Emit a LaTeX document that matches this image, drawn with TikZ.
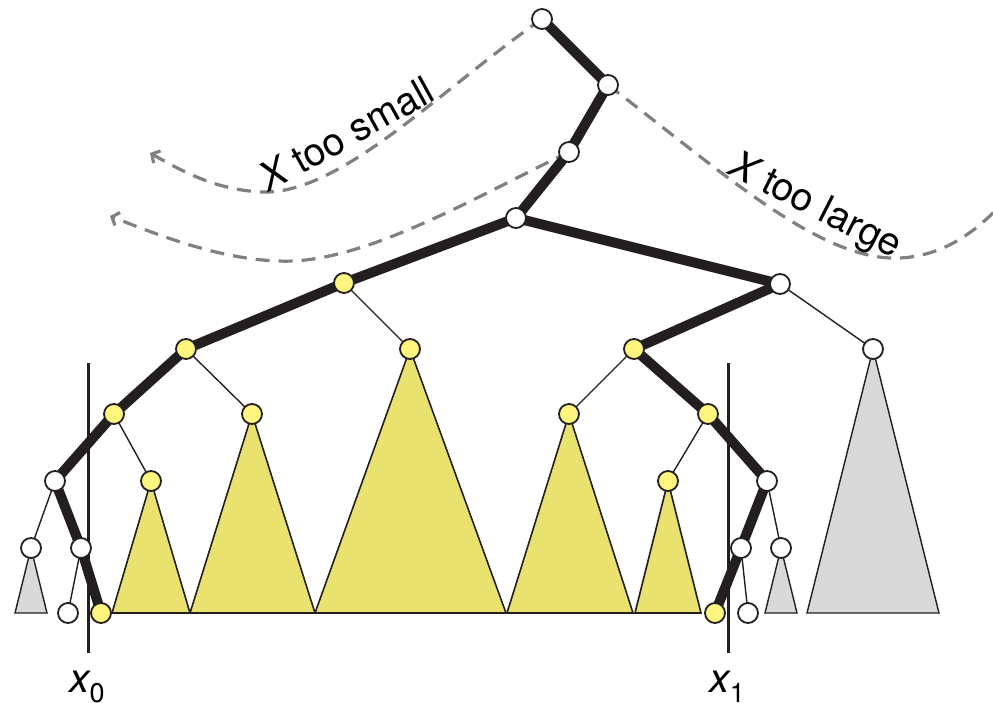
\documentclass[tikz,border=0pt]{standalone}
\usepackage{fontspec}
\setmainfont{TeX Gyre Heros}
\usetikzlibrary{arrows.meta}
\pgfdeclarelayer{bg}
\pgfsetlayers{bg,main}
\definecolor{dark}{RGB}{35,31,32}
\definecolor{nodeyel}{RGB}{255,244,125}
\definecolor{triyel}{RGB}{234,226,110}
\definecolor{trigray}{RGB}{217,217,217}
\definecolor{dashgray}{RGB}{128,128,128}
\begin{document}
\begin{tikzpicture}[x=1pt,y=-1pt,
  wnode/.style={circle,draw=dark,line width=1.8pt,fill=white,minimum size=20pt,inner sep=0pt},
  ynode/.style={wnode,fill=nodeyel},
  thickedge/.style={line width=10pt,draw=dark,line join=round},
  thinedge/.style={line width=1.4pt,draw=dark},
  ytri/.style={fill=triyel,draw=dark,line width=1.6pt},
  gtri/.style={fill=trigray,draw=dark,line width=1.4pt},
  divider/.style={line width=3pt,draw=dark},
  searchpath/.style={draw=dashgray,line width=3.2pt,dash pattern=on 14pt off 9pt,-{Straight Barb[length=6pt,width=14pt]}},
  lbl/.style={font=\fontsize{39}{39}\selectfont,text=black,inner sep=0pt},
  xlbl/.style={font=\fontsize{41}{41}\selectfont,text=black,inner sep=0pt}]
\useasboundingbox (0,0) rectangle (993,703);

% tree nodes
\node[wnode] (A) at (542,19) {};
\node[wnode] (B) at (608,85) {};
\node[wnode] (C) at (569,152) {};
\node[wnode] (D) at (516,218) {};
\node[ynode] (E) at (344,283) {};
\node[wnode] (F) at (780,284) {};
\node[ynode] (G) at (186,349) {};
\node[ynode] (H) at (410,349) {};
\node[ynode] (I) at (634,349) {};
\node[wnode] (J) at (873,349) {};
\node[ynode] (K) at (114,414) {};
\node[ynode] (L) at (252,414) {};
\node[ynode] (M) at (569,414) {};
\node[ynode] (N) at (708,414) {};
\node[wnode] (O) at (55,481) {};
\node[ynode] (P) at (151,481) {};
\node[ynode] (Q) at (668,481) {};
\node[wnode] (R) at (767,481) {};
\node[wnode] (S) at (31,548) {};
\node[wnode] (T) at (81,548) {};
\node[wnode] (U) at (741,548) {};
\node[wnode] (V) at (781,548) {};
\node[wnode] (W) at (68,613) {};
\node[ynode] (X) at (101,613) {};
\node[ynode] (Y) at (715,613) {};
\node[wnode] (Z) at (748,613) {};

% dividers
\coordinate (x0top) at (88,363);
\coordinate (x0bot) at (88,653);
\coordinate (x1top) at (728,363);
\coordinate (x1bot) at (728,653);
\node[xlbl,anchor=base] (x0lbl) at (87,692) {\itshape x\upshape\raisebox{-10pt}{\fontsize{27}{27}\selectfont 0}};
\node[xlbl,anchor=base] (x1lbl) at (727,692) {\itshape x\upshape\raisebox{-10pt}{\fontsize{27}{27}\selectfont 1}};

% search labels
\node[lbl,anchor=base,rotate=29] (small) at (353,146) {\itshape X\upshape\ too small};
\node[lbl,anchor=base,rotate=-27] (large) at (810,216) {\itshape X\upshape\ too large};

\coordinate (s1end) at (150,153);
\coordinate (s2end) at (110,216);
\coordinate (s3end) at (996,210);

\begin{pgfonlayer}{bg}
  % triangles
  \draw[gtri] (S.center) -- (15,613) -- (47,613) -- cycle;
  \draw[ytri] (P.center) -- (112,613) -- (190,613) -- cycle;
  \draw[ytri] (L.center) -- (190,613) -- (315,613) -- cycle;
  \draw[ytri] (H.center) -- (315,613) -- (506,613) -- cycle;
  \draw[ytri] (M.center) -- (507,613) -- (633,613) -- cycle;
  \draw[ytri] (Q.center) -- (635,613) -- (701,613) -- cycle;
  \draw[gtri] (V.center) -- (765,613) -- (797,613) -- cycle;
  \draw[gtri] (J.center) -- (807,613) -- (939,613) -- cycle;

  % dashed search paths
  \draw[searchpath] (A.center) .. controls (440,90) and (340,195) .. (262,192)
        .. controls (215,190) and (180,170) .. (s1end);
  \draw[searchpath] (C.center) .. controls (470,200) and (360,265) .. (278,261)
        .. controls (220,259) and (160,236) .. (s2end);
  \draw[draw=dashgray,line width=3.2pt,dash pattern=on 14pt off 9pt]
        (B.center) .. controls (720,170) and (820,262) .. (900,258)
        .. controls (940,256) and (970,236) .. (s3end);

  % thin edges
  \draw[thinedge] (E.center) -- (H.center);
  \draw[thinedge] (G.center) -- (L.center);
  \draw[thinedge] (K.center) -- (P.center);
  \draw[thinedge] (O.center) -- (S.center);
  \draw[thinedge] (T.center) -- (W.center);
  \draw[thinedge] (F.center) -- (J.center);
  \draw[thinedge] (I.center) -- (M.center);
  \draw[thinedge] (N.center) -- (Q.center);
  \draw[thinedge] (R.center) -- (V.center);
  \draw[thinedge] (U.center) -- (Z.center);

  % dividers
  \draw[divider] (x0top) -- (x0bot);
  \draw[divider] (x1top) -- (x1bot);

  % thick search path
  \draw[thickedge] (A.center) -- (B.center) -- (C.center) -- (D.center) -- (E.center)
        -- (G.center) -- (K.center) -- (O.center) -- (T.center) -- (X.center);
  \draw[thickedge] (D.center) -- (F.center) -- (I.center) -- (N.center) -- (R.center)
        -- (U.center) -- (Y.center);
\end{pgfonlayer}
\end{tikzpicture}
\end{document}
